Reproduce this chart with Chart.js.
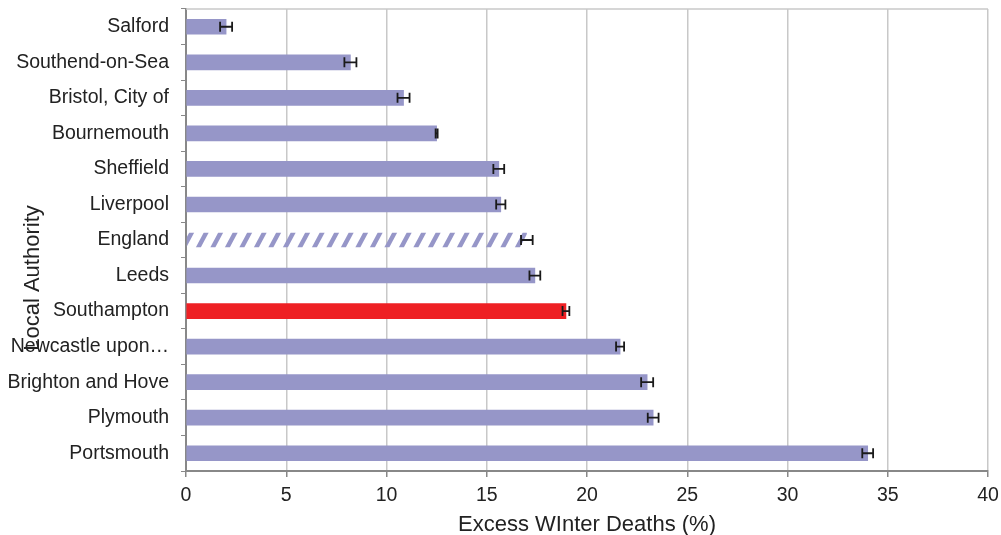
<!DOCTYPE html>
<html>
<head>
<meta charset="utf-8">
<script src="https://cdn.jsdelivr.net/npm/chart.js@4/dist/chart.umd.min.js"></script>
<style>
  html, body { margin: 0; padding: 0; background: #fff; }
  #wrap { width: 1001px; height: 535px; position: relative; }
</style>
</head>
<body>
<div id="wrap"><canvas id="ewdChart"></canvas></div>
<script>
const authorities = [
  'Salford',
  'Southend-on-Sea',
  'Bristol, City of',
  'Bournemouth',
  'Sheffield',
  'Liverpool',
  'England',
  'Leeds',
  'Southampton',
  'Newcastle upon\u2026',
  'Brighton and Hove',
  'Plymouth',
  'Portsmouth'
];
const ewdPercent = [2.0, 8.2, 10.85, 12.5, 15.6, 15.7, 17.0, 17.4, 18.95, 21.65, 23.0, 23.3, 34.0];
const ewdError = [0.3, 0.3, 0.3, 0.05, 0.27, 0.23, 0.29, 0.27, 0.17, 0.2, 0.3, 0.27, 0.27];
const xTicks = [0, 5, 10, 15, 20, 25, 30, 35, 40];

var purple = '#9696c8';
var red = '#ee2024';
var fontFam = '"Liberation Sans", Arial, sans-serif';

var ctx = document.getElementById('ewdChart').getContext('2d');
var barColors = authorities.map(function (a) {
  if (a == 'England') return 'rgba(0,0,0,0)';   // hatched below
  if (a == 'Southampton') return red;
  return purple;
});

// hatch for England, error bars, top border, y title over the labels
var extras = {
  id: 'extras',
  afterDatasetsDraw: function (chart) {
    var c = chart.ctx;
    var xs = chart.scales.x;
    var ys = chart.scales.y;
    var bars = chart.getDatasetMeta(0).data;
    var area = chart.chartArea;
    c.save();

    var eng = authorities.indexOf('England');
    var b = bars[eng];
    var top = b.y - b.height / 2, bot = b.y + b.height / 2;
    c.save();
    c.beginPath();
    c.rect(b.base, top, b.x - b.base, b.height);
    c.clip();
    c.fillStyle = purple;
    for (var sx = b.base - 20; sx < b.x + 20; sx += 14.5) {
      c.beginPath();
      c.moveTo(sx, bot);
      c.lineTo(sx + 5, bot);
      c.lineTo(sx + 13, top);
      c.lineTo(sx + 8, top);
      c.closePath();
      c.fill();
    }
    c.restore();

    c.strokeStyle = '#1a1a1a';
    c.lineWidth = 1.8;
    ewdPercent.forEach(function (v, i) {
      var y = ys.getPixelForValue(i);
      var x1 = xs.getPixelForValue(v - ewdError[i]);
      var x2 = xs.getPixelForValue(v + ewdError[i]);
      c.beginPath();
      c.moveTo(x1, y); c.lineTo(x2, y);
      c.moveTo(x1, y - 5); c.lineTo(x1, y + 5);
      c.moveTo(x2, y - 5); c.lineTo(x2, y + 5);
      c.stroke();
    });

    c.strokeStyle = '#c8c8c8';
    c.lineWidth = 1.5;
    c.beginPath();
    c.moveTo(area.left, area.top);
    c.lineTo(area.right, area.top);
    c.stroke();

    c.fillStyle = '#222';
    c.font = '22px ' + fontFam;
    c.textAlign = 'center';
    c.textBaseline = 'middle';
    c.translate(33, 278);
    c.rotate(-Math.PI / 2);
    c.fillText('Local Authority', 0, 0);
    c.restore();
  }
};

var chart = new Chart(ctx, {
  type: 'bar',
  data: {
    labels: authorities,
    datasets: [{
      data: ewdPercent,
      backgroundColor: barColors,
      borderWidth: 0,
      barThickness: 15
    }]
  },
  options: {
    indexAxis: 'y',
    responsive: true,
    maintainAspectRatio: false,
    animation: false,
    layout: { padding: { top: 9, right: 13, bottom: 0, left: 0 } },
    plugins: {
      legend: { display: false },
      tooltip: { enabled: false }
    },
    scales: {
      x: {
        min: 0,
        max: 40,
        afterBuildTicks: function (scale) {
          scale.ticks = xTicks.map(function (v) { return { value: v }; });
        },
        afterFit: function (scale) {
          scale.height = 64;
          scale.paddingLeft = 0;
          scale.paddingRight = 0;
        },
        grid: { color: '#c8c8c8', lineWidth: 1.5, tickLength: 6, tickColor: '#888' },
        border: { color: '#888', width: 2 },
        ticks: { color: '#222', padding: 7, font: { size: 19.5, family: fontFam } },
        title: {
          display: true,
          text: 'Excess WInter Deaths (%)',
          color: '#222',
          padding: { top: 0, bottom: 0 },
          font: { size: 22, family: fontFam, lineHeight: 0.9 }
        }
      },
      y: {
        afterFit: function (scale) {
          scale.width = 186;
          scale.paddingTop = 0;
          scale.paddingBottom = 0;
        },
        grid: { drawOnChartArea: false, tickLength: 5, tickColor: '#888', offset: true },
        border: { color: '#888', width: 2 },
        ticks: { color: '#222', padding: 12, autoSkip: false, font: { size: 19.5, family: fontFam } }
      }
    }
  },
  plugins: [extras]
});
</script>
</body>
</html>
